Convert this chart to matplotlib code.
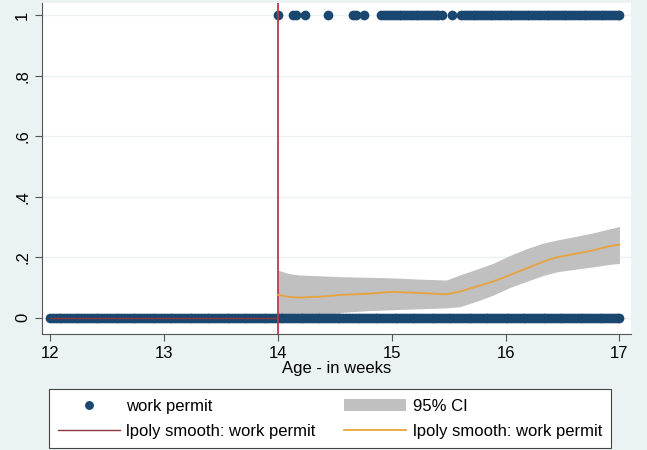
import matplotlib.pyplot as plt
from matplotlib.patches import Patch
from matplotlib.lines import Line2D

plt.rcParams['font.family'] = ['Liberation Sans', 'DejaVu Sans']

# ages (weeks) of observations without a work permit
age_no_permit = [
    12.000, 12.025, 12.050, 12.075, 12.100, 12.125, 12.150, 12.175,
    12.200, 12.225, 12.250, 12.275, 12.300, 12.325, 12.350, 12.375,
    12.400, 12.425, 12.450, 12.475, 12.500, 12.525, 12.550, 12.575,
    12.600, 12.625, 12.650, 12.675, 12.700, 12.725, 12.750, 12.775,
    12.800, 12.825, 12.850, 12.875, 12.900, 12.925, 12.950, 12.975,
    13.000, 13.025, 13.050, 13.075, 13.100, 13.125, 13.150, 13.175,
    13.200, 13.225, 13.250, 13.275, 13.300, 13.325, 13.350, 13.375,
    13.400, 13.425, 13.450, 13.475, 13.500, 13.525, 13.550, 13.575,
    13.600, 13.625, 13.650, 13.675, 13.700, 13.725, 13.750, 13.775,
    13.800, 13.825, 13.850, 13.875, 13.900, 13.925, 13.950, 13.975,
    14.000, 14.025, 14.050, 14.075, 14.100, 14.125, 14.150, 14.175,
    14.200, 14.225, 14.250, 14.275, 14.300, 14.325, 14.350, 14.375,
    14.400, 14.425, 14.450, 14.475, 14.500, 14.525, 14.550, 14.575,
    14.600, 14.625, 14.650, 14.675, 14.700, 14.725, 14.750, 14.775,
    14.800, 14.825, 14.850, 14.875, 14.900, 14.925, 14.950, 14.975,
    15.000, 15.025, 15.050, 15.075, 15.100, 15.125, 15.150, 15.175,
    15.200, 15.225, 15.250, 15.275, 15.300, 15.325, 15.350, 15.375,
    15.400, 15.425, 15.450, 15.475, 15.500, 15.525, 15.550, 15.575,
    15.600, 15.625, 15.650, 15.675, 15.700, 15.725, 15.750, 15.775,
    15.800, 15.825, 15.850, 15.875, 15.900, 15.925, 15.950, 15.975,
    16.000, 16.025, 16.050, 16.075, 16.100, 16.125, 16.150, 16.175,
    16.200, 16.225, 16.250, 16.275, 16.300, 16.325, 16.350, 16.375,
    16.400, 16.425, 16.450, 16.475, 16.500, 16.525, 16.550, 16.575,
    16.600, 16.625, 16.650, 16.675, 16.700, 16.725, 16.750, 16.775,
    16.800, 16.825, 16.850, 16.875, 16.900, 16.925, 16.950, 16.975,
    17.000,
]
# ages (weeks) of observations with a work permit
age_permit = [
    14.00, 14.13, 14.16, 14.24, 14.44, 14.66, 14.69, 14.76,
    14.910, 14.935, 14.960, 14.985, 15.010, 15.035, 15.060, 15.085,
    15.110, 15.135, 15.160, 15.185, 15.210, 15.235, 15.260, 15.285,
    15.310, 15.335, 15.360, 15.385, 15.410, 15.440, 15.53,
    15.610, 15.635, 15.660, 15.685, 15.710, 15.735, 15.760, 15.785,
    15.810, 15.835, 15.860, 15.885, 15.910, 15.935, 15.960, 15.985,
    16.010, 16.035, 16.060, 16.085, 16.110, 16.135, 16.160, 16.185,
    16.210, 16.235, 16.260, 16.285, 16.310, 16.335, 16.360, 16.385,
    16.410, 16.435, 16.460, 16.485, 16.510, 16.535, 16.560, 16.585,
    16.610, 16.635, 16.660, 16.685, 16.710, 16.735, 16.760, 16.785,
    16.810, 16.835, 16.860, 16.885, 16.910, 16.935, 16.960, 16.985,
    17.000,
]

# local polynomial smooth below the cutoff
left_age = [12.0, 13.0, 14.0]
left_fit = [0.0, 0.0, 0.0]

# local polynomial smooth above the cutoff with 95% CI
right_age = [14.0, 14.09, 14.18, 14.37, 14.56, 14.8, 15.01, 15.25, 15.48, 15.6, 15.74,
             15.89, 16.03, 16.18, 16.33, 16.45, 16.56, 16.76, 16.9, 17.0]
right_fit = [0.076, 0.070, 0.067, 0.070, 0.076, 0.080, 0.086, 0.082, 0.078, 0.087, 0.103,
             0.120, 0.140, 0.163, 0.186, 0.200, 0.208, 0.222, 0.236, 0.242]
ci_low = [-0.007, -0.007, -0.007, 0.005, 0.018, 0.024, 0.027, 0.030, 0.033, 0.037, 0.054,
          0.075, 0.099, 0.120, 0.140, 0.152, 0.158, 0.168, 0.176, 0.180]
ci_high = [0.158, 0.147, 0.142, 0.139, 0.136, 0.134, 0.132, 0.128, 0.125, 0.142, 0.160,
           0.180, 0.205, 0.228, 0.247, 0.257, 0.265, 0.280, 0.293, 0.302]

cutoff = 14

navy = '#1a476f'
maroon = '#c0354f'
orange = '#e8a33d'
ci_grey = '#c0c0c0'

fig = plt.figure(figsize=(6.47, 4.5), dpi=100)
fig.patch.set_facecolor('#eaf2f3')
ax = fig.add_axes([0.065, 0.258, 0.91, 0.735])
ax.set_facecolor('white')

ax.fill_between(right_age, ci_low, ci_high, color=ci_grey, lw=0, zorder=1)
ax.plot(age_no_permit, [0] * len(age_no_permit), 'o', color=navy, ms=7, mew=0, zorder=3)
ax.plot(age_permit, [1] * len(age_permit), 'o', color=navy, ms=7, mew=0, zorder=3)
ax.plot(left_age, left_fit, color='#90353b', lw=1, zorder=4)
ax.axvline(cutoff, color=maroon, lw=1.3, zorder=4)
ax.plot(right_age, right_fit, color=orange, lw=1.3, zorder=4)

ax.set_xlim(11.93, 17.1)
ax.set_ylim(-0.053, 1.04)
ax.set_xticks([12, 13, 14, 15, 16, 17])
ax.set_yticks([0, 0.2, 0.4, 0.6, 0.8, 1])
ax.set_yticklabels(['0', '.2', '.4', '.6', '.8', '1'], rotation=90, va='center')
ax.tick_params(labelsize=12, length=5, color='#555555')
ax.grid(axis='y', color='#eaf2f3', lw=1)
ax.set_axisbelow(True)
for s in ['top', 'right']:
    ax.spines[s].set_visible(False)
for s in ['left', 'bottom']:
    ax.spines[s].set_color('#555555')
ax.set_xlabel('Age - in weeks', fontsize=12, labelpad=0)

handles = [
    Line2D([], [], ls='none', marker='o', color=navy, ms=6.4, mew=0),
    Line2D([], [], color='#90353b', lw=1),
    Patch(facecolor=ci_grey, edgecolor='none'),
    Line2D([], [], color=orange, lw=1.3),
]
labels = ['work permit', 'lpoly smooth: work permit', '95% CI', 'lpoly smooth: work permit']
leg = fig.legend(handles, labels, ncol=2, loc='lower left',
                 bbox_to_anchor=(0.0757, 0.005), fontsize=12,
                 handlelength=3.7, fancybox=False, framealpha=1,
                 edgecolor='#444444', borderaxespad=0, labelspacing=0.6,
                 handletextpad=0.4, columnspacing=1.7, borderpad=0.55)
leg.get_frame().set_linewidth(0.8)

fig.savefig('out.png', dpi=100, facecolor=fig.get_facecolor())
